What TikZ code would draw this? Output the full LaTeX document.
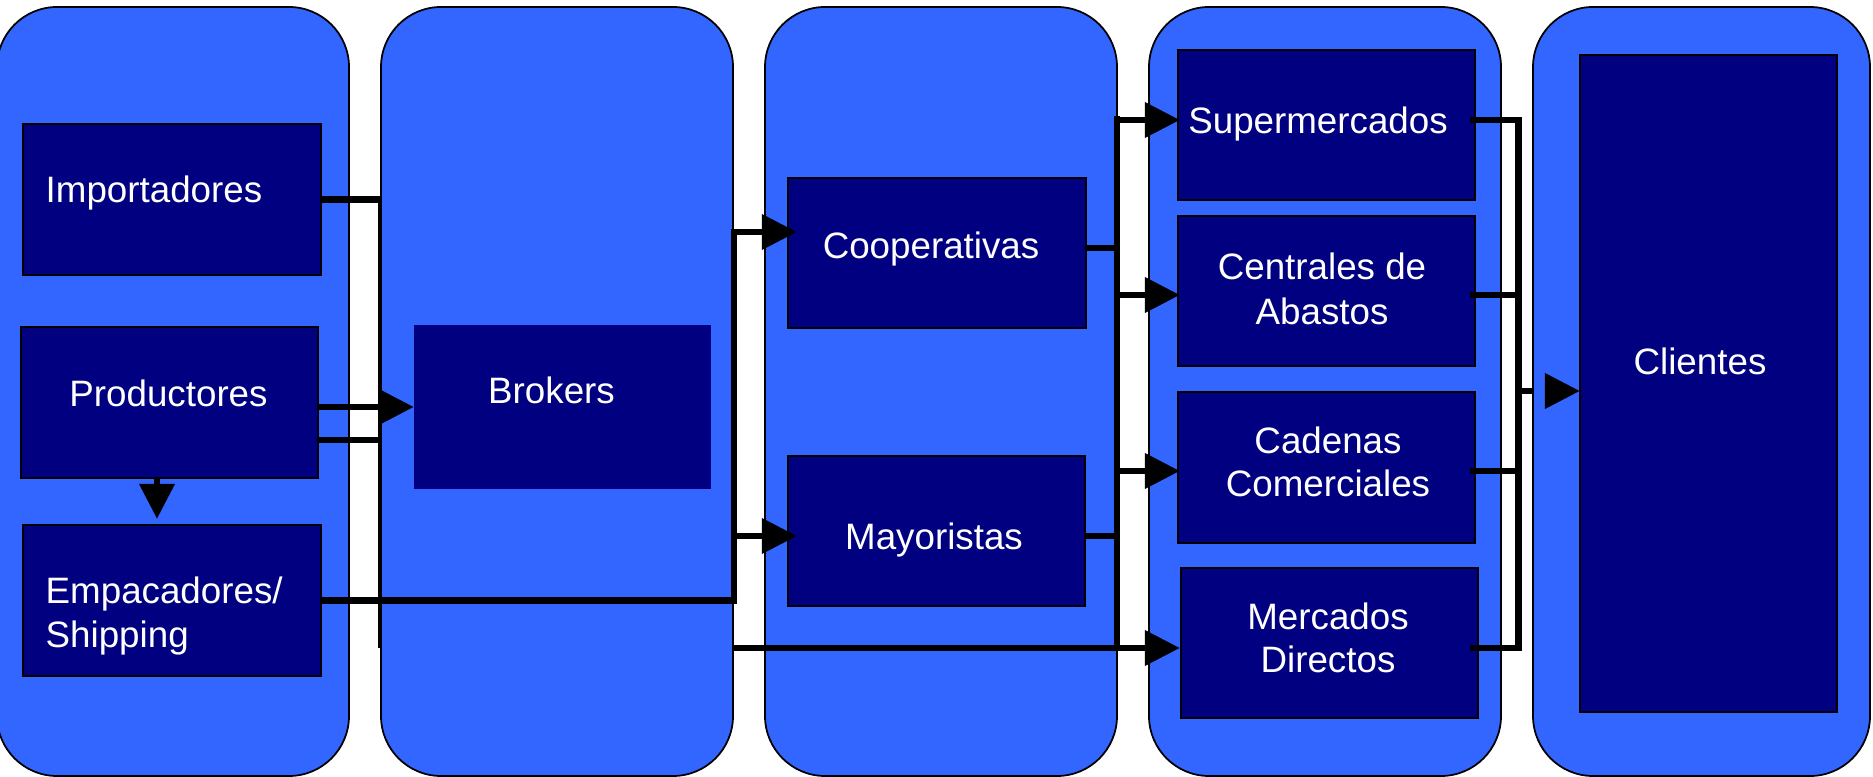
\documentclass[tikz,border=0pt]{standalone}
\usepackage{fontspec}
\setmainfont{Liberation Sans}
\usetikzlibrary{arrows.meta,calc}

\definecolor{lanefill}{RGB}{51,102,255}
\definecolor{actorfill}{RGB}{0,0,128}

\begin{document}
\begin{tikzpicture}[x=0.01cm,y=-0.01cm,
  lane/.style={draw=black, line width=0.5pt, fill=lanefill, rounded corners=0.6cm},
  actor/.style={draw=black, line width=0.45pt, fill=actorfill, inner sep=0pt, outer sep=0pt},
  bare/.style={fill=actorfill, inner sep=0pt, outer sep=0pt},
  lbl/.style={text=white, inner sep=0pt, font=\fontsize{10.45}{12.5}\selectfont},
  wire/.style={line width=1.98pt},
  thinwire/.style={line width=1.15pt},
  flow/.style={wire, -{Triangle[length=0.35cm,width=0.34cm]}}]

\useasboundingbox (0,0) rectangle (1873,777);
\clip (0,0) rectangle (1873,777);

% swim lanes
\draw[lane] (-3,7) rectangle (349,776);
\draw[lane] (381,7) rectangle (733,776);
\draw[lane] (765,7) rectangle (1117,776);
\draw[lane] (1149,7) rectangle (1501,776);
\draw[lane] (1533,7) rectangle (1870,776);

% actor boxes
\node[actor, minimum width=2.98cm, minimum height=1.51cm] (imp)  at (172,199.5) {};
\node[actor, minimum width=2.97cm, minimum height=1.51cm] (prod) at (169.5,402.5) {};
\node[actor, minimum width=2.98cm, minimum height=1.51cm] (emp)  at (172,600.5) {};
\node[bare,  minimum width=2.97cm, minimum height=1.64cm] (brk)  at (562.5,407) {};
\node[actor, minimum width=2.98cm, minimum height=1.50cm] (coop) at (937,253) {};
\node[actor, minimum width=2.97cm, minimum height=1.50cm] (may)  at (936.5,531) {};
\node[actor, minimum width=2.97cm, minimum height=1.50cm] (sup)  at (1326.5,125) {};
\node[actor, minimum width=2.97cm, minimum height=1.50cm] (cen)  at (1326.5,291) {};
\node[actor, minimum width=2.97cm, minimum height=1.51cm] (cad)  at (1326.5,467.5) {};
\node[actor, minimum width=2.97cm, minimum height=1.50cm] (mer)  at (1329.5,643) {};
\node[actor, minimum width=2.57cm, minimum height=6.57cm] (cli)  at (1708.5,383.5) {};

% labels
\node[lbl, anchor=base west] (impT)  at (45,203) {Importadores};
\node[lbl, anchor=base]      (prodT) at (168.5,407) {Productores};
\node[lbl, anchor=base west] (empTa) at (45,604) {Empacadores/};
\node[lbl, anchor=base west] (empTb) at (45,648) {Shipping};
\node[lbl, anchor=base]      (brkT)  at (551.5,404) {Brokers};
\node[lbl, anchor=base]      (coopT) at (931,259) {Cooperativas};
\node[lbl, anchor=base]      (mayT)  at (934,550) {Mayoristas};
\node[lbl, anchor=base]      (supT)  at (1318,134) {Supermercados};
\node[lbl, anchor=base]      (cenTa) at (1322,280) {Centrales de};
\node[lbl, anchor=base]      (cenTb) at (1322,325) {Abastos};
\node[lbl, anchor=base]      (cadTa) at (1328,454) {Cadenas};
\node[lbl, anchor=base]      (cadTb) at (1328,497) {Comerciales};
\node[lbl, anchor=base]      (merTa) at (1328,630) {Mercados};
\node[lbl, anchor=base]      (merTb) at (1328,673) {Directos};
\node[lbl, anchor=base]      (cliT)  at (1700,375) {Clientes};

% bus columns
\coordinate (jL) at (380,0);
\coordinate (jB) at (734,0);
\coordinate (jM) at (1117,0);
\coordinate (jR) at (1518,0);

% entry / exit points
\coordinate (prodOut) at ($(prod.east)+(0,37.5)$);
\coordinate (coopIn)  at ($(coop.west)+(9,-21)$);
\coordinate (mayIn)   at ($(may.west)+(9,5)$);
\coordinate (coopOut) at ($(coop.east)+(0,-5)$);
\coordinate (mayOut)  at ($(may.east)+(0,5)$);
\coordinate (supIn)   at ($(sup.west)+(2,-5)$);
\coordinate (cenIn)   at ($(cen.west)+(2,4)$);
\coordinate (cadIn)   at ($(cad.west)+(2,3.5)$);
\coordinate (merIn)   at ($(mer.west)+(-1,5)$);
\coordinate (cliIn)   at ($(cli.west)+(0,7.5)$);
\coordinate (cliGap)  at ($(cli.west)+(-47,7.5)$);
\coordinate (cliTip)  at ($(cli.west)+(-35,7.5)$);

% producers side
\draw[wire] (imp.east) -- (imp.east -| jL);
\draw[thinwire] ($(imp.east -| jL)+(0,-3)$) -- (jL |- merIn);
\draw[flow] (prod.east |- brk.west) -- (brk.west);
\draw[wire] (prodOut) -- (prodOut -| jL);
\draw[flow] ($(prod.south)+(-12.5,0)$) -- ($(emp.north)+(-15,-6)$);

% packers to cooperatives and wholesalers
\draw[flow] (emp.east) -| (jB |- coopIn) -- (coopIn);
\draw[flow] (jB |- mayIn) -- (mayIn);

% middle distribution bus
\draw[wire] (coopOut) -- (coopOut -| jM);
\draw[wire] (mayOut) -- (mayOut -| jM);
\draw[wire] ($(jM |- supIn)+(0,-3.5)$) -- (jM |- merIn);
\draw[flow] (jM |- supIn) -- (supIn);
\draw[flow] (jM |- cenIn) -- (cenIn);
\draw[flow] (jM |- cadIn) -- (cadIn);
\draw[flow] (jB |- merIn) -- (merIn);

% retail to clients
\draw[wire] ($(sup.east |- supIn)+(-5,0)$) -| (jR |- merIn) -- ($(mer.east |- merIn)+(-8,0)$);
\draw[wire] ($(cen.east |- cenIn)+(-5,0)$) -- (jR |- cenIn);
\draw[wire] ($(cad.east |- cadIn)+(-5,0)$) -- (jR |- cadIn);
\draw[wire] (jR |- cliIn) -- (cliGap);
\draw[flow] (cliTip) -- (cliIn);

\end{tikzpicture}
\end{document}
